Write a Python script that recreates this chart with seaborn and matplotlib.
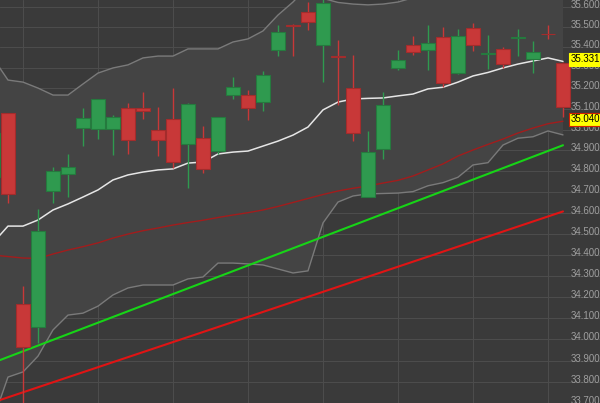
import numpy as np
import pandas as pd
import seaborn as sns
import matplotlib.pyplot as plt
from matplotlib.ticker import FixedLocator, NullLocator
from matplotlib.transforms import offset_copy

# bar -1 is the one cut off at the left edge
idx = list(range(-1, 38))

opens = [34.771, 35.081, 34.166, 34.059, 34.705, 34.786, 35.007, 35.002, 35.001, 35.104,
         35.103, 34.996, 35.051, 34.930, 34.958, 34.896, 35.166, 35.167, 35.133, 35.387,
         35.511, 35.573, 35.413, 35.358, 35.203, 34.677, 34.904, 35.300, 35.411, 35.387,
         35.452, 35.273, 35.493, 35.369, 35.390, 35.446, 35.341, 35.466, 35.325]
highs = [34.983, 35.082, 34.251, 34.616, 34.821, 34.882, 35.106, 35.150, 35.070, 35.127,
         35.180, 35.111, 35.200, 35.127, 35.017, 35.062, 35.253, 35.192, 35.286, 35.508,
         35.512, 35.624, 35.650, 35.436, 35.362, 34.993, 35.183, 35.387, 35.455, 35.509,
         35.501, 35.488, 35.518, 35.460, 35.403, 35.488, 35.432, 35.509, 35.326]
lows = [34.771, 34.648, 33.600, 33.981, 34.646, 34.674, 34.922, 34.956, 34.877, 34.882,
        35.049, 34.872, 34.813, 34.717, 34.789, 34.882, 35.149, 35.046, 35.090, 35.359,
        35.359, 35.485, 35.230, 35.119, 34.946, 34.677, 34.858, 35.289, 35.362, 35.289,
        35.208, 35.269, 35.383, 35.292, 35.297, 35.357, 35.276, 35.439, 35.062]
closes = [34.983, 34.690, 33.965, 34.513, 34.801, 34.818, 35.057, 35.148, 35.062, 34.949,
          35.091, 34.949, 34.845, 35.124, 34.808, 35.062, 35.205, 35.106, 35.263, 35.476,
          35.506, 35.522, 35.619, 35.354, 34.982, 34.891, 35.117, 35.338, 35.378, 35.419,
          35.224, 35.455, 35.411, 35.374, 35.317, 35.450, 35.378, 35.463, 35.111]

mid_band = [34.456, 34.536, 34.536, 34.565, 34.613, 34.642, 34.675, 34.709, 34.757, 34.781,
            34.795, 34.805, 34.810, 34.838, 34.843, 34.882, 34.891, 34.896, 34.920, 34.944,
            34.973, 35.012, 35.095, 35.133, 35.148, 35.151, 35.153, 35.163, 35.172, 35.197,
            35.205, 35.230, 35.260, 35.277, 35.299, 35.318, 35.333, 35.348, 35.331]
upper_band = [35.348, 35.240, 35.230, 35.201, 35.167, 35.167, 35.221, 35.274, 35.299, 35.314,
              35.348, 35.357, 35.357, 35.392, 35.392, 35.392, 35.426, 35.441, 35.480, 35.558,
              35.622, 35.700, 35.640, 35.620, 35.612, 35.608, 35.612, 35.622, 35.643, 35.665,
              35.666, 35.690, 35.691, 35.714, 35.673, 35.678, 35.701, 35.703, 35.689]
lower_band = [33.623, 33.823, 33.847, 33.921, 34.044, 34.114, 34.123, 34.156, 34.209, 34.242,
              34.256, 34.256, 34.256, 34.285, 34.294, 34.360, 34.360, 34.356, 34.351, 34.332,
              34.313, 34.323, 34.551, 34.651, 34.680, 34.690, 34.692, 34.694, 34.701, 34.729,
              34.744, 34.770, 34.829, 34.840, 34.925, 34.958, 34.965, 34.993, 34.974]
ma_slow = [34.398, 34.391, 34.384, 34.382, 34.403, 34.422, 34.438, 34.456, 34.479, 34.498,
           34.514, 34.527, 34.541, 34.553, 34.564, 34.577, 34.589, 34.600, 34.613, 34.630,
           34.649, 34.668, 34.687, 34.704, 34.717, 34.728, 34.742, 34.755, 34.776, 34.805,
           34.834, 34.872, 34.901, 34.928, 34.954, 34.983, 35.007, 35.028, 35.040]

trend_x = [-1, 37]
trend_green = [33.890, 34.924]
trend_red = [33.705, 34.606]

price_ticks = [33.7, 33.8, 33.9, 34.0, 34.1, 34.2, 34.3, 34.4, 34.5, 34.6,
               34.7, 34.8, 34.9, 35.0, 35.1, 35.2, 35.3, 35.4, 35.5, 35.6]
grid_x = [1, 6, 11, 16, 21, 26, 31, 36]

data = pd.DataFrame({'idx': idx, 'open': opens, 'high': highs, 'low': lows, 'close': closes,
                     'mid': mid_band, 'upper': upper_band, 'lower': lower_band, 'ma': ma_slow})

sns.set_theme(style='dark')
plt.rcParams['font.family'] = ['Liberation Sans', 'DejaVu Sans']

fig = plt.figure(figsize=(6, 4.03), dpi=100)
fig.patch.set_facecolor('#3b3b3b')
ax = fig.add_axes([0, 0, 1, 1])
ax.set_facecolor('#3a3a3a')

# bollinger area
ax.fill_between(data['idx'], data['lower'], data['upper'], color='#444444', lw=0, zorder=1)

sns.lineplot(x='idx', y='upper', data=data, color='#7a7a7a', lw=1, ax=ax, zorder=2)
sns.lineplot(x='idx', y='lower', data=data, color='#7a7a7a', lw=1, ax=ax, zorder=2)
sns.lineplot(x='idx', y='ma', data=data, color='#a31c1c', lw=1, ax=ax, zorder=2)
sns.lineplot(x='idx', y='mid', data=data, color='#e6e6e6', lw=1.1, ax=ax, zorder=3)
sns.lineplot(x=trend_x, y=trend_green, color='#17d417', lw=1.5, ax=ax, zorder=3)
sns.lineplot(x=trend_x, y=trend_red, color='#e01414', lw=1.5, ax=ax, zorder=3)

# candles
up = data['close'] >= data['open']
body_col = np.where(up, '#2f9a4f', '#c83838')
edge_col = np.where(up, '#257a3e', '#a32c2c')
ax.vlines(data['idx'], data['low'], data['high'], colors=body_col, lw=1, zorder=4)
body_h = (data['close'] - data['open']).abs().clip(lower=0.002)
ax.bar(data['idx'], body_h, bottom=data[['open', 'close']].min(axis=1), width=0.88,
       color=body_col, edgecolor=edge_col, lw=0.8, zorder=5)

ax.set_yscale('log')
ax.set_ylim(33.702, 35.632)
ax.set_xlim(-0.533, 39.467)
ax.yaxis.set_major_locator(FixedLocator(price_ticks))
ax.yaxis.set_minor_locator(NullLocator())
ax.xaxis.set_major_locator(FixedLocator(grid_x))
ax.tick_params(length=0, labelleft=False, labelbottom=False)
ax.grid(True, color='#4c4c4c', lw=0.8, zorder=0)
ax.set_axisbelow(True)
ax.set_xlabel('')
ax.set_ylabel('')
for s in ax.spines.values():
    s.set_visible(False)

# price scale on the right, drawn inside the plot
lab_tr = offset_copy(ax.get_yaxis_transform(), fig=fig, x=0, y=2, units='dots')
for p in price_ticks:
    ax.text(0.951, p, f'{p:.3f}', transform=lab_tr, ha='left', va='center',
            fontsize=7, color='#9e9e9e', zorder=6)

ax.text(0.951, mid_band[-1], f'{mid_band[-1]:.3f}', transform=lab_tr, ha='left', va='center',
        fontsize=7, color='black', zorder=7,
        bbox=dict(boxstyle='square,pad=0.15', fc='#ffff00', ec='#ffff00', lw=0.8))
ax.text(0.951, ma_slow[-1], f'{ma_slow[-1]:.3f}', transform=lab_tr, ha='left', va='center',
        fontsize=7, color='black', zorder=7,
        bbox=dict(boxstyle='square,pad=0.15', fc='#ffff00', ec='#d02000', lw=0.8))

plt.savefig('out.png', dpi=100, facecolor=fig.get_facecolor())
